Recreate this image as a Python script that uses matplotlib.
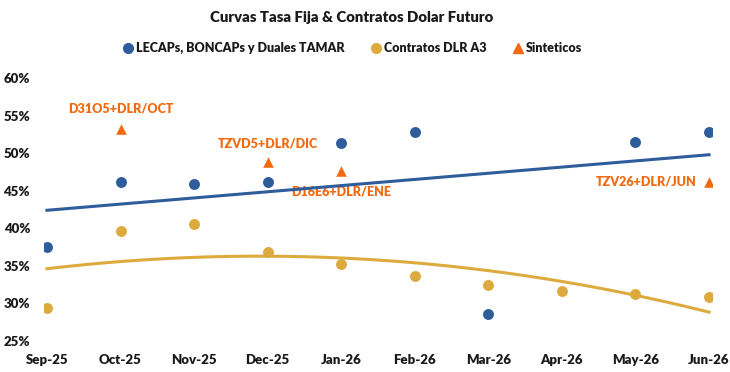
import numpy as np
import matplotlib
matplotlib.use('Agg')
import matplotlib.pyplot as plt
from matplotlib.lines import Line2D
from matplotlib.ticker import FuncFormatter

plt.rcParams['font.family'] = ['Lato', 'DejaVu Sans']
plt.rcParams['font.weight'] = 'heavy'

# --- data ---
months = ['Sep-25', 'Oct-25', 'Nov-25', 'Dec-25', 'Jan-26',
          'Feb-26', 'Mar-26', 'Apr-26', 'May-26', 'Jun-26']

# LECAPs / BONCAPs / Duales TAMAR (no Apr point)
lecap_idx = [0, 1, 2, 3, 4, 5, 6, 8, 9]
lecap_tna = [37.5, 46.2, 45.9, 46.2, 51.4, 52.8, 28.6, 51.5, 52.9]

# Contratos DLR A3
dlr_idx = [0, 1, 2, 3, 4, 5, 6, 7, 8, 9]
dlr_tna = [29.4, 39.6, 40.6, 36.9, 35.2, 33.6, 32.5, 31.6, 31.2, 30.8]

# Sinteticos
sint_idx = [1, 3, 4, 9]
sint_tna = [53.3, 48.8, 47.6, 46.2]
sint_labels = ['D31O5+DLR/OCT', 'TZVD5+DLR/DIC', 'D16E6+DLR/ENE', 'TZV26+DLR/JUN']

BLUE = '#2F5D9B'
GOLD = '#DDAA3E'
ORANGE = '#F26A10'
TEXT = '#1A1A1A'
W = 'heavy'

fig = plt.figure(figsize=(7.30, 3.72), dpi=100)
ax = fig.add_axes([0.0603, 0.0833, 0.915, 0.7062])

# trendlines (Excel style: linear for LECAPs, poly-2 for DLR)
xs = np.linspace(0, 9, 200)
lin = np.polyfit(lecap_idx, lecap_tna, 1)
quad = np.polyfit(dlr_idx, dlr_tna, 2)
ax.plot(xs, np.polyval(lin, xs), color=BLUE, lw=2.2, zorder=2)
ax.plot(xs, np.polyval(quad, xs), color=GOLD, lw=2.2, zorder=2)

ax.scatter(lecap_idx, lecap_tna, s=62, color=BLUE, zorder=3, linewidths=0)
ax.scatter(dlr_idx, dlr_tna, s=62, color=GOLD, zorder=3, linewidths=0)
ax.scatter(sint_idx, sint_tna, s=58, marker='^', color=ORANGE, zorder=3, linewidths=0)

# labels for the synthetic points
lab_kw = dict(color=ORANGE, fontsize=9, fontweight=W, zorder=1)
ax.text(1, 56.0, sint_labels[0], ha='center', va='center', **lab_kw)
ax.text(3, 51.3, sint_labels[1], ha='center', va='center', **lab_kw)
ax.text(4, 44.9, sint_labels[2], ha='center', va='center', **lab_kw)
ax.text(8.83, 46.2, sint_labels[3], ha='right', va='center', **lab_kw)

ax.set_xlim(-0.04, 9.04)
ax.set_ylim(25, 60)
ax.set_xticks(range(len(months)))
ax.set_xticklabels(months)
ax.set_yticks(np.arange(25, 61, 5))
ax.yaxis.set_major_formatter(FuncFormatter(lambda v, p: f'{v:.0f}%'))
ax.tick_params(axis='both', length=0, labelsize=9.5, colors=TEXT)
ax.tick_params(axis='x', pad=9)
ax.tick_params(axis='y', pad=10)
for lbl in ax.get_xticklabels() + ax.get_yticklabels():
    lbl.set_fontweight(W)
for s in ax.spines.values():
    s.set_visible(False)

fig.text(0.481, 0.954, 'Curvas Tasa Fija & Contratos Dolar Futuro',
         ha='center', va='center', fontsize=10.7, fontweight=W, color=TEXT)

handles = [
    Line2D([], [], ls='none', marker='o', ms=7, color=BLUE),
    Line2D([], [], ls='none', marker='o', ms=7, color=GOLD),
    Line2D([], [], ls='none', marker='^', ms=7, color=ORANGE),
]
fig.legend(handles, ['LECAPs, BONCAPs y Duales TAMAR', 'Contratos DLR A3', 'Sinteticos'],
           loc='center', bbox_to_anchor=(0.482, 0.871), ncol=3, frameon=False,
           handletextpad=0.15, columnspacing=2.0, handlelength=1.0,
           prop={'size': 9, 'weight': W}, labelcolor=TEXT)

fig.savefig('out.png', dpi=100)
